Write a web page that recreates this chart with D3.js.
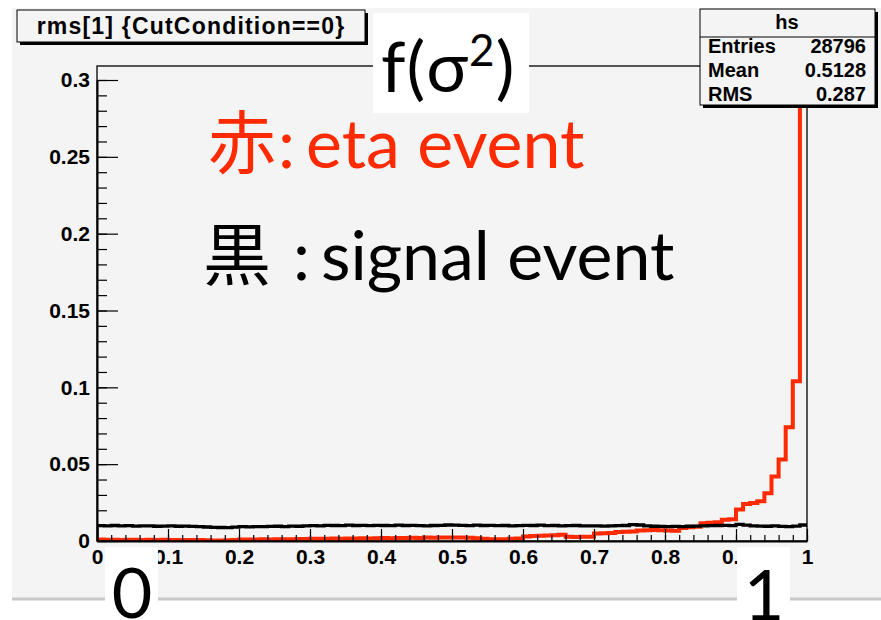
<!DOCTYPE html>
<html>
<head>
<meta charset="utf-8">
<script src="https://cdn.jsdelivr.net/npm/d3@7"></script>
<style>
  body { margin: 0; background: #fff; }
  svg { display: block; }
</style>
</head>
<body>
<div id="myChart"></div>
<script>
// 100 bins from 0 to 1
const etaValues = [
  0.0009, 0.0008, 0.0008, 0.0007, 0.0008, 0.0008, 0.0007, 0.0008, 0.0007, 0.0008,
  0.0007, 0.0007, 0.0006, 0.0007, 0.0006, 0.0005, 0.0004, 0.0004, 0.0005, 0.0006,
  0.0009, 0.0010, 0.0010, 0.0011, 0.0010, 0.0012, 0.0011, 0.0012, 0.0013, 0.0013,
  0.0014, 0.0015, 0.0014, 0.0016, 0.0015, 0.0017, 0.0016, 0.0018, 0.0017, 0.0018,
  0.0019, 0.0018, 0.0020, 0.0019, 0.0021, 0.0020, 0.0022, 0.0021, 0.0022, 0.0023,
  0.0022, 0.0023, 0.0021, 0.0018, 0.0015, 0.0012, 0.0011, 0.0012, 0.0014, 0.0016,
  0.0030, 0.0032, 0.0034, 0.0036, 0.0038, 0.0040, 0.0028, 0.0026, 0.0027, 0.0028,
  0.0048, 0.0050, 0.0052, 0.0058, 0.0060, 0.0062, 0.0068, 0.0070, 0.0071, 0.0070,
  0.0068, 0.0066, 0.0085, 0.0090, 0.0092, 0.0115, 0.0118, 0.0122, 0.0138, 0.0142,
  0.0205, 0.0240, 0.0248, 0.0258, 0.0310, 0.0420, 0.0530, 0.0740, 0.1040, 0.3600
];
const signalValues = [
  0.0100, 0.0098, 0.0101, 0.0099, 0.0100, 0.0097, 0.0099, 0.0098, 0.0096, 0.0097,
  0.0098, 0.0096, 0.0097, 0.0095, 0.0093, 0.0091, 0.0089, 0.0088, 0.0087, 0.0090,
  0.0094, 0.0092, 0.0094, 0.0093, 0.0095, 0.0096, 0.0094, 0.0097, 0.0096, 0.0098,
  0.0100, 0.0099, 0.0102, 0.0101, 0.0100, 0.0103, 0.0101, 0.0102, 0.0100, 0.0102,
  0.0101, 0.0100, 0.0103, 0.0101, 0.0102, 0.0100, 0.0099, 0.0101, 0.0102, 0.0104,
  0.0103, 0.0102, 0.0100, 0.0103, 0.0101, 0.0102, 0.0100, 0.0101, 0.0099, 0.0100,
  0.0102, 0.0101, 0.0103, 0.0100, 0.0101, 0.0099, 0.0100, 0.0101, 0.0099, 0.0098,
  0.0099, 0.0097, 0.0098, 0.0100, 0.0101, 0.0107, 0.0104, 0.0099, 0.0096, 0.0095,
  0.0094, 0.0095, 0.0094, 0.0096, 0.0097, 0.0099, 0.0100, 0.0101, 0.0102, 0.0100,
  0.0108, 0.0103, 0.0098, 0.0097, 0.0096, 0.0098, 0.0095, 0.0094, 0.0097, 0.0104
];
const xMajorTicks = [0, 0.1, 0.2, 0.3, 0.4, 0.5, 0.6, 0.7, 0.8, 0.9, 1];
const yMajorTicks = [0, 0.05, 0.1, 0.15, 0.2, 0.25, 0.3];
const statLabels = ["Entries", "Mean", "RMS"];
const statValues = ["28796", "0.5128", "0.287"];

const W = 881, H = 620;
const frame = { left: 97, right: 807, top: 66, bottom: 541 };
const rootFont = "'Liberation Sans', Arial, Helvetica, sans-serif";
const slideFont = "Lato, 'Noto Sans CJK JP', sans-serif";
const red = "#ff2a00";

const svg = d3.select("#myChart").append("svg")
  .attr("width", W).attr("height", H);

// canvas
svg.append("rect").attr("x", 12).attr("y", 8).attr("width", W - 12).attr("height", 590)
  .attr("fill", "#f4f4f4");
svg.append("line").attr("x1", 12).attr("x2", W).attr("y1", 599).attr("y2", 599)
  .attr("stroke", "#c8c8c8").attr("stroke-width", 3);

const x = d3.scaleLinear().domain([0, 1]).range([frame.left, frame.right]);
const y = d3.scaleLinear().domain([0, 0.3]).range([frame.bottom, 80]);

svg.append("clipPath").attr("id", "clip").append("rect")
  .attr("x", frame.left).attr("y", frame.top)
  .attr("width", frame.right - frame.left).attr("height", frame.bottom - frame.top);

// histogram outline (no drop at the right edge, like ROOT)
function histPoints(vals) {
  const pts = [[0, 0]];
  vals.forEach((v, i) => pts.push([i / vals.length, v]));
  pts.push([1, vals[vals.length - 1]]);
  return pts;
}
const step = d3.line()
  .x((d) => x(d[0]))
  .y((d) => y(d[1]))
  .curve(d3.curveStepAfter);

const plot = svg.append("g").attr("clip-path", "url(#clip)");
plot.append("path").datum(histPoints(etaValues))
  .attr("d", step).attr("fill", "none").attr("stroke", red).attr("stroke-width", 4);
plot.append("path").datum(histPoints(signalValues))
  .attr("d", step).attr("fill", "none").attr("stroke", "#000").attr("stroke-width", 3.3);

// frame
svg.append("rect")
  .attr("x", frame.left).attr("y", frame.top)
  .attr("width", frame.right - frame.left).attr("height", frame.bottom - frame.top)
  .attr("fill", "none").attr("stroke", "#000").attr("stroke-width", 1.3);

// axes: ROOT style ticks pointing into the frame
const yMinor = d3.range(0, 0.3001, 0.01);
const xMinor = d3.range(0, 1.0001, 0.02);

svg.append("g").attr("transform", "translate(" + frame.left + ",0)")
  .call(d3.axisLeft(y).tickValues(yMinor).tickSizeInner(-10).tickSizeOuter(0).tickFormat(""))
  .call((g) => g.select(".domain").remove());
svg.append("g").attr("transform", "translate(0," + frame.bottom + ")")
  .call(d3.axisBottom(x).tickValues(xMinor).tickSizeInner(-6).tickSizeOuter(0).tickFormat(""))
  .call((g) => g.select(".domain").remove());

const yAxis = svg.append("g").attr("transform", "translate(" + frame.left + ",0)")
  .call(d3.axisLeft(y).tickValues(yMajorTicks).tickSizeInner(-21).tickSizeOuter(0)
    .tickPadding(7).tickFormat(d3.format("")));
const xAxis = svg.append("g").attr("transform", "translate(0," + frame.bottom + ")")
  .call(d3.axisBottom(x).tickValues(xMajorTicks).tickSizeInner(-12).tickSizeOuter(0)
    .tickPadding(8).tickFormat(d3.format("")));

[yAxis, xAxis].forEach((g) => {
  g.select(".domain").attr("stroke-width", 2);
  g.selectAll("text").attr("font-family", rootFont).attr("font-weight", "bold")
    .attr("font-size", 21).attr("fill", "#000");
});
svg.selectAll(".tick line").attr("stroke", "#000").attr("stroke-width", 1.2);

// title box
svg.append("rect").attr("x", 20).attr("y", 13).attr("width", 348).attr("height", 32).attr("fill", "#000");
svg.append("rect").attr("x", 17).attr("y", 10).attr("width", 348).attr("height", 32)
  .attr("fill", "#f4f4f4").attr("stroke", "#000").attr("stroke-width", 1);
svg.append("text").attr("x", 191).attr("y", 34).attr("text-anchor", "middle")
  .attr("font-family", rootFont).attr("font-weight", "bold").attr("font-size", 23)
  .attr("letter-spacing", 1.2)
  .text("rms[1] {CutCondition==0}");

// stats box
svg.append("rect").attr("x", 703).attr("y", 12).attr("width", 175).attr("height", 96).attr("fill", "#000");
svg.append("rect").attr("x", 700).attr("y", 9).attr("width", 175).attr("height", 96)
  .attr("fill", "#f4f4f4").attr("stroke", "#000").attr("stroke-width", 1);
svg.append("line").attr("x1", 700).attr("x2", 875).attr("y1", 37).attr("y2", 37)
  .attr("stroke", "#000").attr("stroke-width", 1);
const statFont = (t) => t.attr("font-family", rootFont).attr("font-weight", "bold")
  .attr("font-size", 20).attr("fill", "#000");
svg.append("text").attr("x", 787).attr("y", 29).attr("text-anchor", "middle")
  .call(statFont).text("hs");
statLabels.forEach((lab, i) => {
  svg.append("text").attr("x", 708).attr("y", 53 + i * 24).call(statFont).text(lab);
  svg.append("text").attr("x", 866).attr("y", 53 + i * 24).attr("text-anchor", "end")
    .call(statFont).text(statValues[i]);
});

// slide annotations
svg.append("rect").attr("x", 373).attr("y", 13).attr("width", 156).attr("height", 100).attr("fill", "#fff");
const fs = svg.append("text").attr("x", 381).attr("y", 92)
  .attr("font-family", slideFont).attr("font-size", 70).attr("letter-spacing", 1).attr("fill", "#000");
fs.append("tspan").text("f(σ");
fs.append("tspan").attr("font-size", 44).attr("dy", -26).text("2");
fs.append("tspan").attr("dy", 26).text(")");

svg.append("rect").attr("x", 105).attr("y", 547).attr("width", 53).attr("height", 73).attr("fill", "#fff");
svg.append("text").attr("x", 132).attr("y", 618).attr("text-anchor", "middle")
  .attr("font-family", slideFont).attr("font-size", 70).attr("fill", "#000").text("0");

svg.append("rect").attr("x", 737).attr("y", 547).attr("width", 53).attr("height", 73).attr("fill", "#fff");
svg.append("text").attr("x", 764).attr("y", 620).attr("text-anchor", "middle")
  .attr("font-family", slideFont).attr("font-size", 70).attr("fill", "#000").text("1");

const redLabel = svg.append("text").attr("y", 168)
  .attr("font-family", slideFont).attr("font-size", 68).attr("fill", red);
redLabel.append("tspan").attr("x", 208).text("赤");
redLabel.append("tspan").attr("x", 278).text(":");
redLabel.append("tspan").attr("x", 306).text("eta event");

const blackLabel = svg.append("text").attr("y", 280)
  .attr("font-family", slideFont).attr("font-size", 68).attr("fill", "#000");
blackLabel.append("tspan").attr("x", 203).text("黒");
blackLabel.append("tspan").attr("x", 293).text(":");
blackLabel.append("tspan").attr("x", 321).text("signal event");
</script>
</body>
</html>
